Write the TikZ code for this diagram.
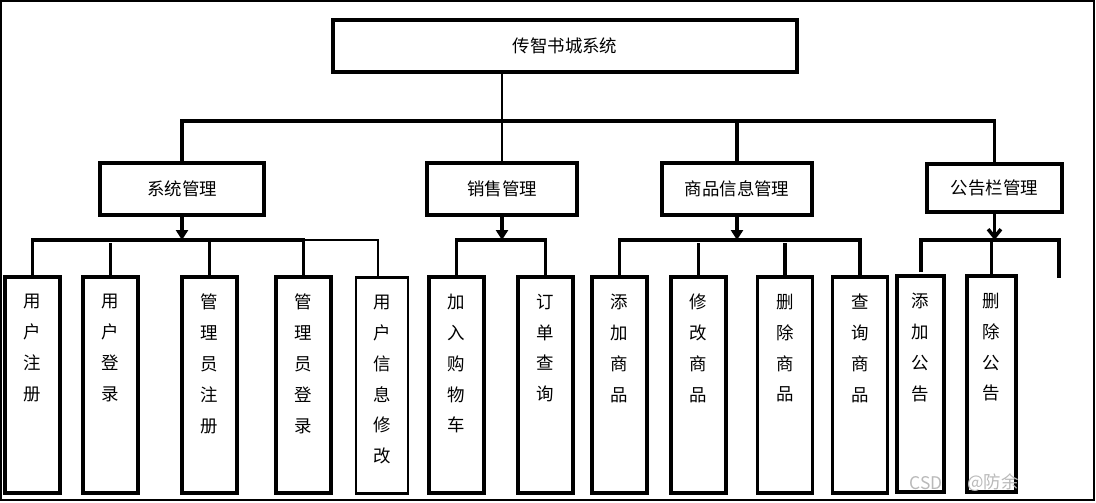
\documentclass[tikz,border=0pt]{standalone}
\usepackage{fontspec}
\setmainfont{Noto Sans CJK SC}
\usetikzlibrary{positioning,arrows.meta}

\begin{document}
\begin{tikzpicture}[x=0.025cm, y=-0.025cm, line width=2.5pt,
          font=\fontsize{12.4}{15}\selectfont,
          box/.style={draw, inner sep=0pt, minimum height=1.3cm},
          leaf/.style={draw, inner sep=0pt, minimum width=1.375cm, minimum height=5.4cm},
          vtext/.style={align=center, inner sep=0pt, font=\fontsize{12.4}{22}\selectfont},
          tip/.style={-{Triangle[length=0.25cm, width=0.3cm]}},
          barb/.style={-{Straight Barb[length=0.2cm, width=0.32cm]}},
          wmtext/.style={text=gray!55, inner sep=0pt}]
        \useasboundingbox (0,0) rectangle (1096,502);
        \draw[line width=1.8pt] (1,1) rectangle (1094,500);
        % top and second level
        \node[box, minimum width=11.6cm] (top) at (565,46) {传智书城系统};
        \node[box, minimum width=4.1cm] (sys) at (182,189) {系统管理};
        \node[box, minimum width=3.75cm] (sale) at (502,189) {销售管理};
        \node[box, minimum width=3.75cm] (goods) at (737,189) {商品信息管理};
        \node[box, minimum width=3.375cm, minimum height=1.2cm] (ann) at (994.5,188) {公告栏管理};
        \coordinate (trunk) at (501,121);
        \draw[line width=1.8pt] (top.south -| sale.north) -- (sale.north);
        \draw (sys.north) |- (trunk) -| (ann.north);
        \draw (goods.north) -- (goods.north |- trunk);
        % leaves
        \node[leaf] (r1) at (32.5,385) {};
        \node[leaf] (r2) at (110.5,385) {};
        \node[leaf] (r3) at (209.5,385) {};
        \node[leaf] (r4) at (303.5,385) {};
        \node[leaf, line width=1.8pt, minimum width=1.3cm] (r5) at (382,385.5) {};
        \node[leaf] (s1) at (456.5,385) {};
        \node[leaf] (s2) at (545.5,385) {};
        \node[leaf] (g1) at (619.5,385) {};
        \node[leaf] (g2) at (698.5,385) {};
        \node[leaf] (g3) at (785,385) {};
        \node[leaf] (g4) at (860,385) {};
        \node[leaf, minimum width=1.175cm] (a1) at (920.5,384) {};
        \node[leaf, minimum width=1.225cm] (a2) at (991.5,384) {};
        \node[vtext, below=0.42cm of r1.north] (t1) {用\\户\\注\\册};
        \node[vtext, below=0.42cm of r2.north] (t2) {用\\户\\登\\录};
        \node[vtext, below=0.42cm of r3.north] (t3) {管\\理\\员\\注\\册};
        \node[vtext, below=0.42cm of r4.north] (t4) {管\\理\\员\\登\\录};
        \node[vtext, below=0.42cm of r5.north] (t5) {用\\户\\信\\息\\修\\改};
        \node[vtext, below=0.42cm of s1.north] (t6) {加\\入\\购\\物\\车};
        \node[vtext, below=0.42cm of s2.north] (t7) {订\\单\\查\\询};
        \node[vtext, below=0.42cm of g1.north] (t8) {添\\加\\商\\品};
        \node[vtext, below=0.42cm of g2.north] (t9) {修\\改\\商\\品};
        \node[vtext, below=0.42cm of g3.north] (t10) {删\\除\\商\\品};
        \node[vtext, below=0.42cm of g4.north] (t11) {查\\询\\商\\品};
        \node[vtext, below=0.42cm of a1.north] (t12) {添\\加\\公\\告};
        \node[vtext, below=0.42cm of a2.north] (t13) {删\\除\\公\\告};
        % buses
        \coordinate (bus1) at (181,240);
        \coordinate (bus2) at (501,240);
        \coordinate (bus3) at (735,240);
        \coordinate (bus4) at (991,240);
        \coordinate (a1top) at (921,272);
        \coordinate (stub) at (1059,278);
        \draw[tip] (sys.south) -- (sys.south |- bus1);
        \draw (r1.north) |- (bus1) -| (r4.north);
        \draw[line width=1.8pt] (r4.north |- bus1) -| ([xshift=-0.1cm]r5.north);
        \draw (r2.north) -- ++(0,-32);
        \draw (r3.north) -- ++(0,-33);
        \draw[tip] (sale.south) -- (sale.south |- bus2);
        \draw (s1.north) |- (bus2) -| (s2.north);
        \draw[tip] (goods.south) -- (goods.south |- bus3);
        \draw (g1.north) |- (bus3) -| (g4.north);
        \draw (g2.north) -- ++(0,-32);
        \draw (g3.north) -- ++(0,-32);
        \draw[barb] (ann.south) -- (ann.south |- bus4);
        \draw (a1top) |- (bus4) -| (stub);
        \draw (a2.north) -- (a2.north |- bus4);
        % watermark
        \node[wmtext] (wm1) at (926,483) {CSD};
        \node[wmtext] (wm2) at (993,483) {@防余};
\end{tikzpicture}
\end{document}
